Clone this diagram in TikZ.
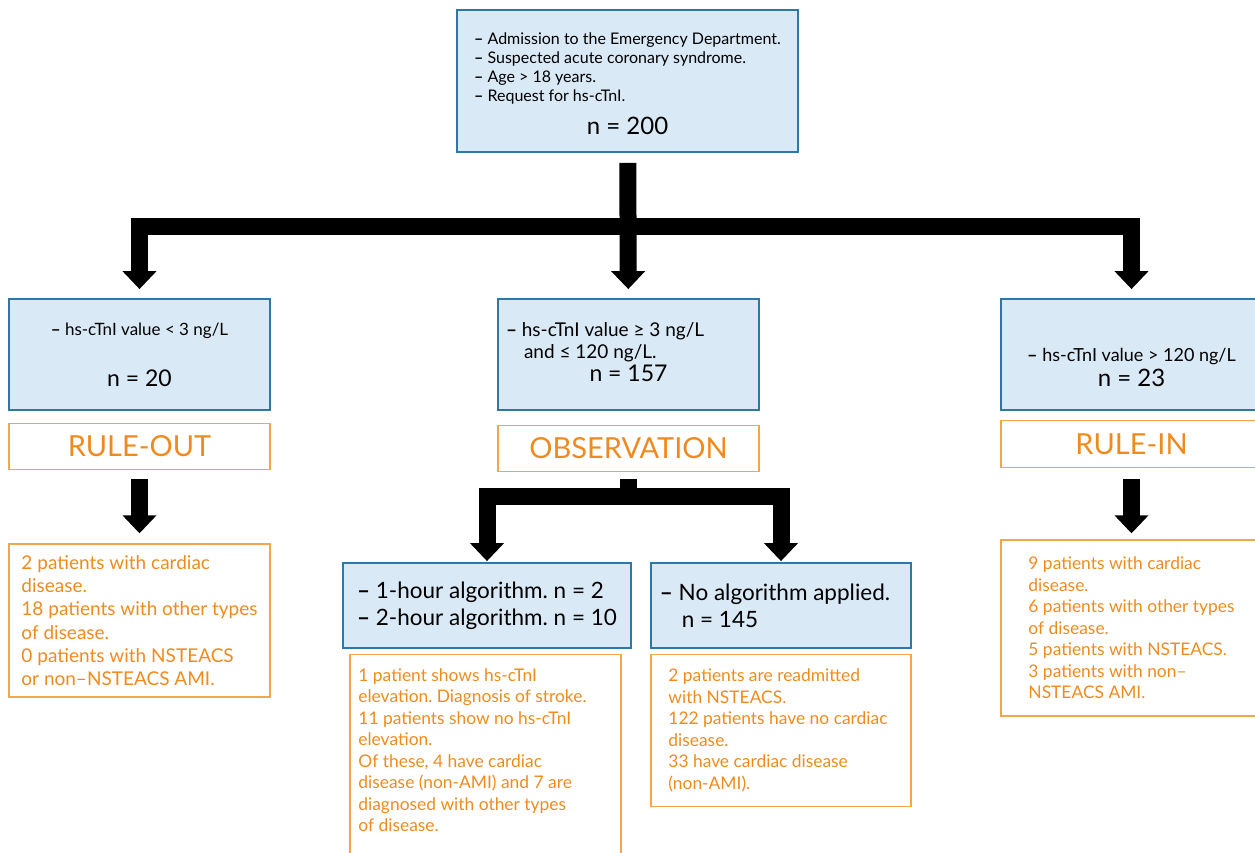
\documentclass[tikz,border=0pt]{standalone}
\usepackage{fontspec}
\setmainfont{Lato}
\usetikzlibrary{positioning, arrows.meta}
\definecolor{boxfill}{HTML}{DAE9F6}
\definecolor{boxline}{HTML}{2F78A6}
\definecolor{ordertext}{HTML}{EF8B1E}
\definecolor{orderline}{HTML}{F5A54C}
\newcommand{\fsz}[2]{\fontsize{#1}{#2}\selectfont}
\newcommand{\dash}{\textbf{--}}
\newcommand{\midline}[1]{\multicolumn{1}{@{}c@{}}{#1}}
\newcommand{\padright}[1]{\hspace*{#1}\mbox{}}
\frenchspacing

\begin{document}
\begin{tikzpicture}[
    x=1pt, y=-1pt,
    groupbox/.style={draw=boxline, line width=1.8pt, fill=boxfill, rectangle, minimum width=261pt, minimum height=111pt, inner sep=0pt, font=\fsz{17}{21}},
    labelbox/.style={draw=orderline, line width=1.4pt, rectangle, text=ordertext, minimum width=261pt, minimum height=46pt, inner sep=0pt, font=\fsz{29}{32}},
    outcome/.style={draw=orderline, line width=1.4pt, rectangle, text=ordertext, align=left, inner sep=0pt, font=\fsz{17.4}{21.5}},
    bigarrow/.style={line width=17pt, -{Triangle[width=33pt, length=18pt]}},
    bigline/.style={line width=17pt}
  ]
  \useasboundingbox (0,0) rectangle (1255,852);

  % Knoten
  \node[groupbox, minimum width=341pt, minimum height=142pt, font=\fsz{16}{19.3}] (entry) at (627.5,81) {\begin{tabular}{@{}l@{}}\rule{0pt}{22pt}\dash{} Admission to the Emergency Department.\\\dash{} Suspected acute coronary syndrome.\\\dash{} Age > 18 years.\\\dash{} Request for hs-cTnI.\\[9pt]\midline{\fsz{24}{26}n = 200}\end{tabular}};

  \node[groupbox, align=center] (lowval) at (139.5,354.5) {\dash{} hs-cTnI value < 3 ng/L\\[30pt]{\fsz{23}{25}n = 20}};
  \node[groupbox, font=\fsz{19}{22.5}] (midval) at (628.5,354.5) {\begin{tabular}{@{}p{245pt}@{}}\dash{} hs-cTnI value ≥ 3 ng/L\\\hspace*{18pt}and ≤ 120 ng/L.\\\midline{\fsz{23}{25}n = 157}\end{tabular}};
  \node[groupbox, align=center, font=\fsz{18}{22}] (highval) at (1131.5,354.5) {\mbox{}\\[18pt]\dash{} hs-cTnI value > 120 ng/L\\[3pt]{\fsz{24}{26}n = 23}};

  \node[labelbox, below=12pt of lowval] (ruleout) {RULE-OUT};
  \node[labelbox, below=14pt of midval] (observe) {OBSERVATION};
  \node[labelbox, below=9pt of highval, minimum height=47pt] (rulein) {RULE-IN};

  \node[outcome, below=73pt of ruleout, minimum width=261pt, minimum height=153pt, font=\fsz{19}{23.2}] (outlow) {2 patients with cardiac\\disease.\\18 patients with other types\\of disease.\\0 patients with NSTEACS\\or non--NSTEACS AMI.};
  \node[outcome, below=71pt of rulein, minimum width=261pt, minimum height=176pt] (outhigh) {9 patients with cardiac\\disease.\\6 patients with other types\\of disease.\\5 patients with NSTEACS.\\3 patients with non--\\NSTEACS AMI.};

  \node[groupbox, minimum width=288pt, minimum height=85pt, align=left, font=\fsz{22.5}{27}] (alg) at (487,605.5) {\dash{} 1-hour algorithm. n = 2\\\dash{} 2-hour algorithm. n = 10};
  \node[groupbox, minimum width=260pt, minimum height=85pt, align=left, font=\fsz{22.5}{27}] (noalg) at (781,605.5) {\dash{} No algorithm applied.\padright{12pt}\\\hspace*{22pt}n = 145};

  \node[outcome, below=5pt of alg, xshift=-1.5pt, minimum width=271pt, inner ysep=14pt] (outalg) {1 patient shows hs-cTnI\\elevation. Diagnosis of stroke.\padright{26pt}\\11 patients show no hs-cTnI\\elevation.\\Of these, 4 have cardiac\\disease (non-AMI) and 7 are\\diagnosed with other types\\of disease.\\[6pt]\mbox{}};
  \node[outcome, below=5pt of noalg, minimum width=260pt, minimum height=152pt] (outnoalg) {2 patients are readmitted\\with NSTEACS.\\122 patients have no cardiac\padright{6pt}\\disease.\\33 have cardiac disease\\(non-AMI).};

  % Pfeile
  \coordinate (split) at (628.5,226);
  \coordinate (fork) at (628.5,496);
  \draw[bigarrow, shorten <=10pt, shorten >=9pt] (entry) -- (midval);
  \draw[bigarrow, shorten >=9pt] (split) -| (lowval);
  \draw[bigarrow, shorten >=9pt] (split) -| (highval);

  \draw[bigarrow, shorten <=9pt, shorten >=10pt] (ruleout) -- (outlow);
  \draw[bigarrow, shorten <=11pt, shorten >=6pt] (rulein) -- (outhigh);

  \draw[bigline, shorten <=7pt] (observe) -- (fork);
  \draw[bigarrow, shorten >=1pt] (fork) -| (alg);
  \draw[bigarrow, shorten >=1pt] (fork) -| (noalg);
\end{tikzpicture}
\end{document}
